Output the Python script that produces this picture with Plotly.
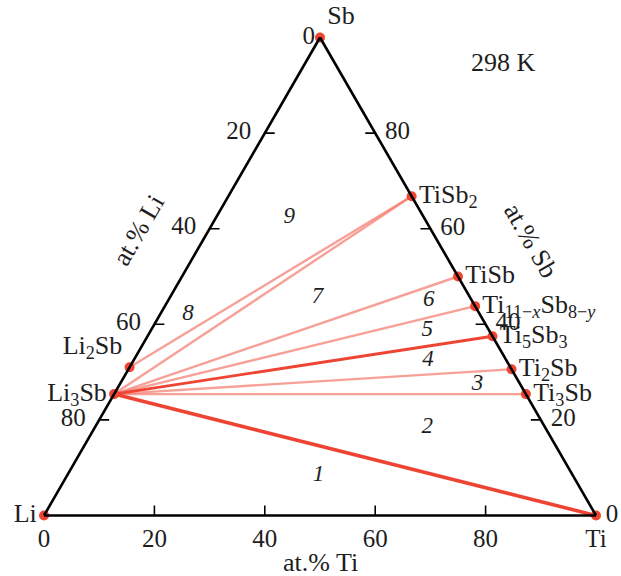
import plotly.graph_objects as go

# ---------------- data (at.%) ----------------
names = ["Li", "Li2Sb", "Li3Sb", "Sb", "TiSb2", "TiSb", "Ti11Sb8", "Ti5Sb3", "Ti2Sb", "Ti3Sb", "Ti"]
labels = ["Li", "Li<sub>2</sub>Sb", "Li<sub>3</sub>Sb", "Sb", "TiSb<sub>2</sub>", "TiSb",
          "Ti<sub>11−<i>x</i></sub>Sb<sub>8−<i>y</i></sub>", "Ti<sub>5</sub>Sb<sub>3</sub>",
          "Ti<sub>2</sub>Sb", "Ti<sub>3</sub>Sb", ""]
sb = [0, 31.0, 25.4, 100, 66.8, 50.0, 43.8, 37.5, 30.6, 25.4, 0]
li = [100, 69.0, 74.6, 0, 0, 0, 0, 0, 0, 0, 0]
ti = [0, 0, 0, 0, 33.2, 50.0, 56.2, 62.5, 69.4, 74.6, 100]
label_pos = ["middle left", "top left", "middle left", "top right", "middle right", "middle right",
             "middle right", "middle right", "middle right", "middle right", "bottom center"]

tie_bold = [("Li3Sb", "Ti5Sb3"), ("Li3Sb", "Ti")]
tie_bold_width = [2.8, 3.6]
tie_pale = [("Li2Sb", "TiSb2"), ("Li3Sb", "TiSb2"), ("Li3Sb", "TiSb"),
            ("Li3Sb", "Ti11Sb8"), ("Li3Sb", "Ti2Sb"), ("Li3Sb", "Ti3Sb")]

region_text = ["1", "2", "3", "4", "5", "6", "7", "8", "9"]
region_sb = [8.5, 18.5, 27.5, 32.5, 38.7, 45.0, 45.7, 42.2, 62.3]
region_ti = [45.5, 60.2, 64.8, 53.3, 50.1, 47.2, 26.7, 5.0, 13.3]
region_li = [100 - s - t for s, t in zip(region_sb, region_ti)]

# tick positions (at.% of the element read along each edge)
li_ticks = [20, 40, 60, 80]   # left edge
ti_ticks = [20, 40, 60, 80]   # bottom edge
sb_ticks = [20, 40, 60, 80]   # right edge

# tick labels: edges read as in the original (Li on left, Ti on bottom, Sb on right)
NB = "\u00a0"
a_tickvals = [80, 60, 40, 20]
a_ticktext = ["20", "40", "60", "80"]
b_tickvals = [100, 80, 60, 40, 20, 0]
b_ticktext = ["0", "20", "40", "60", "80", "Ti"]
c_tickvals = [20, 40, 60, 80, 100]
c_ticktext = [NB + "80", NB + "60", NB + "40", NB + "20", NB + "0"]

SERIF = "Liberation Serif"
TXT = "#1e1e1e"
TICK_V = 2.1   # tick length, at.% (vertical ticks)
TICK_H = 1.8   # tick length, at.% (horizontal ticks)
idx = {n: i for i, n in enumerate(names)}

fig = go.Figure()


def add_ties(pairs, color, width, dash):
    A, B, C = [], [], []
    for p, q in pairs:
        for n in (p, q):
            A.append(sb[idx[n]]); B.append(li[idx[n]]); C.append(ti[idx[n]])
        A.append(None); B.append(None); C.append(None)
    fig.add_trace(go.Scatterternary(a=A, b=B, c=C, mode="lines",
                                    line=dict(color=color, width=width, dash=dash),
                                    hoverinfo="skip", showlegend=False))


add_ties(tie_pale, "rgba(243,120,108,0.7)", 2.4, "solid")
for pair, w in zip(tie_bold, tie_bold_width):
    add_ties([pair], "#ee4433", w, "solid")

# edge tick marks (horizontal on the sides, vertical on the base), pointing inwards
A, B, C = [], [], []
for v in ti_ticks:
    A += [0, TICK_V, None]; C += [v, v - TICK_V / 2, None]; B += [100 - v, 100 - v - TICK_V / 2, None]
for v in li_ticks:
    A += [100 - v, 100 - v, None]; C += [0, TICK_H, None]; B += [v, v - TICK_H, None]
for v in sb_ticks:
    A += [v, v, None]; C += [100 - v, 100 - v - TICK_H, None]; B += [0, TICK_H, None]
fig.add_trace(go.Scatterternary(a=A, b=B, c=C, mode="lines",
                                line=dict(color="black", width=1.6),
                                hoverinfo="skip", showlegend=False))

fig.add_trace(go.Scatterternary(
    a=sb, b=li, c=ti, mode="markers+text", text=labels, textposition=label_pos,
    textfont=dict(family=SERIF, size=26, color=TXT),
    marker=dict(color="#f04530", size=10), showlegend=False, cliponaxis=False))

# "0" of the Li scale at the Sb vertex
fig.add_trace(go.Scatterternary(
    a=[sb[idx["Sb"]]], b=[li[idx["Sb"]]], c=[ti[idx["Sb"]]], mode="text", text=["0\u2009"],
    textposition="middle left", textfont=dict(family=SERIF, size=25, color=TXT),
    showlegend=False, cliponaxis=False, hoverinfo="skip"))

fig.add_trace(go.Scatterternary(
    a=region_sb, b=region_li, c=region_ti, mode="text", text=region_text,
    textfont=dict(family=SERIF, size=23, color=TXT, style="italic"),
    showlegend=False))

axis_common = dict(showgrid=False, showline=True, linecolor="black", linewidth=2.6,
                   tickwidth=1, tickcolor="rgba(0,0,0,0)",
                   tickmode="array", tickfont=dict(family=SERIF, size=25, color=TXT),
                   title=dict(text=""))

fig.update_layout(
    width=621, height=576,
    margin=dict(l=44, r=25, t=30, b=53),
    paper_bgcolor="white",
    ternary=dict(
        sum=100, bgcolor="white",
        aaxis=dict(axis_common, ticks="outside", ticklen=9, tickvals=a_tickvals, ticktext=a_ticktext),
        baxis=dict(axis_common, ticks="", tickvals=b_tickvals, ticktext=b_ticktext),
        caxis=dict(axis_common, ticks="", tickvals=c_tickvals, ticktext=c_ticktext),
    ),
    annotations=[
        dict(text="298 K", x=503, y=62, font=dict(family=SERIF, size=26, color=TXT)),
        dict(text="at.% Li", x=138, y=230, textangle=-60, font=dict(family=SERIF, size=26, color=TXT)),
        dict(text="at.% Sb", x=531, y=240, textangle=60, font=dict(family=SERIF, size=26, color=TXT)),
        dict(text="at.% Ti", x=320, y=562, font=dict(family=SERIF, size=26, color=TXT)),
    ],
)

# convert pixel placements of annotations to paper coordinates
L, T, W, H = 44, 30, 621 - 44 - 25, 576 - 30 - 53
for ann in fig.layout.annotations:
    ann.x = (ann.x - L) / W
    ann.y = 1 - (ann.y - T) / H
    ann.xref = "paper"; ann.yref = "paper"
    ann.xanchor = "center"; ann.yanchor = "middle"
    ann.showarrow = False

fig.write_html("out.html")
